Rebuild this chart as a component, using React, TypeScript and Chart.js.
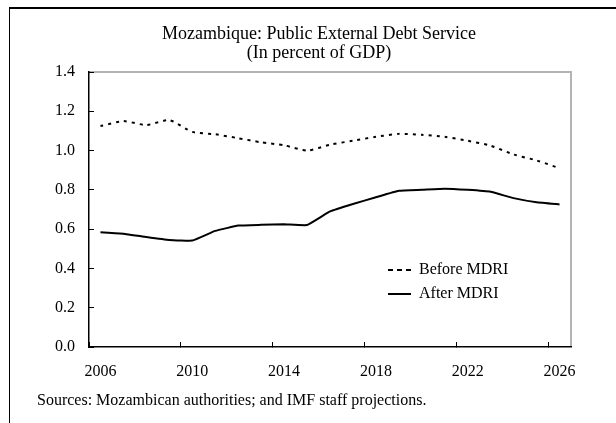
import React, { useEffect, useRef } from 'react';
import { Chart, registerables } from 'chart.js';

Chart.register(...registerables);

const years = [
  '2006', '2007', '2008', '2009', '2010', '2011', '2012', '2013', '2014', '2015', '2016',
  '2017', '2018', '2019', '2020', '2021', '2022', '2023', '2024', '2025', '2026',
];
const beforeMDRI = [
  1.125, 1.15, 1.13, 1.155, 1.095, 1.083, 1.063, 1.042, 1.027, 1.0, 1.03,
  1.05, 1.07, 1.085, 1.08, 1.07, 1.05, 1.025, 0.98, 0.95, 0.91,
];
const afterMDRI = [
  0.584, 0.577, 0.56, 0.545, 0.542, 0.591, 0.618, 0.622, 0.625, 0.621, 0.69,
  0.728, 0.762, 0.795, 0.8, 0.806, 0.8, 0.79, 0.758, 0.737, 0.726,
];
const seriesNames = ['Before MDRI', 'After MDRI'];
const titleLines = ['Mozambique: Public External Debt Service', '(In percent of GDP)'];
const sourceNote = 'Sources: Mozambican authorities; and IMF staff projections.';
const yMin = 0;
const yMax = 1.4;
const yStep = 0.2;
const labelEvery = 4;

const FONT = "'Liberation Serif', 'Times New Roman', serif";

const plotFrame = {
  id: 'plotFrame',
  beforeDraw(chart: any) {
    const { ctx, chartArea: a } = chart;
    ctx.save();
    ctx.strokeStyle = '#b4b4b4';
    ctx.lineWidth = 2;
    ctx.beginPath();
    ctx.moveTo(a.left, a.top);
    ctx.lineTo(a.right, a.top);
    ctx.lineTo(a.right, a.bottom);
    ctx.stroke();
    ctx.restore();
  },
};

const legendPlacer = {
  id: 'legendPlacer',
  afterLayout(chart: any) {
    const lg = chart.legend;
    if (!lg) return;
    const x = 380;
    const y = 254;
    lg.left = x;
    lg.top = y;
    lg.right = x + lg.width;
    lg.bottom = y + lg.height;
  },
};

export default function App() {
  const ref = useRef<HTMLCanvasElement | null>(null);

  useEffect(() => {
    if (!ref.current) return;
    const chart = new Chart(ref.current, {
      type: 'line',
      data: {
        labels: years,
        datasets: [
          {
            label: seriesNames[0],
            data: beforeMDRI,
            borderColor: '#000',
            backgroundColor: '#000',
            borderWidth: 2,
            borderDash: [3, 5],
            pointRadius: 0,
            tension: 0.2,
          },
          {
            label: seriesNames[1],
            data: afterMDRI,
            borderColor: '#000',
            backgroundColor: '#000',
            borderWidth: 2,
            pointRadius: 0,
            tension: 0.1,
          },
        ],
      },
      options: {
        responsive: false,
        animation: false,
        devicePixelRatio: 1,
        layout: { padding: { left: 37, right: 15, top: 0, bottom: 0 } },
        plugins: {
          tooltip: { enabled: false },
          title: {
            display: true,
            text: titleLines,
            color: '#000',
            font: { family: FONT, size: 18, weight: 'normal', lineHeight: 1.05 },
            padding: { top: 24.5, bottom: 9.7 },
          },
          subtitle: {
            display: true,
            text: sourceNote,
            position: 'bottom',
            align: 'start',
            color: '#000',
            font: { family: FONT, size: 16, weight: 'normal', lineHeight: 1.2 },
            padding: { top: 10.2, bottom: 12.4 },
          },
          legend: {
            display: true,
            position: 'chartArea',
            fullSize: false,
            align: 'start',
            labels: {
              usePointStyle: true,
              pointStyle: 'line',
              pointStyleWidth: 23,
              color: '#000',
              padding: 8,
              font: { family: FONT, size: 16, weight: 'normal' },
              generateLabels: (c: any) =>
                c.data.datasets.map((ds: any, i: number) => ({
                  text: ds.label,
                  fillStyle: 'rgba(0,0,0,0)',
                  strokeStyle: ds.borderColor,
                  lineWidth: ds.borderWidth,
                  lineDash: ds.borderDash ? [5, 4] : [],
                  lineCap: 'butt',
                  pointStyle: 'line',
                  fontColor: '#000',
                  hidden: false,
                  datasetIndex: i,
                })),
            },
          },
        },
        scales: {
          x: {
            type: 'category',
            offset: true,
            grid: {
              offset: true,
              drawOnChartArea: false,
              drawTicks: true,
              tickLength: -5,
              lineWidth: 1,
              color: (ctx: any) => (ctx.index % labelEvery === 0 ? '#000' : 'rgba(0,0,0,0)'),
            },
            border: { color: '#000', width: 1.5 },
            ticks: {
              autoSkip: false,
              maxRotation: 0,
              padding: 20,
              color: '#000',
              font: { family: FONT, size: 16 },
              callback: (_v: any, i: number) => (i % labelEvery === 0 ? years[i] : ''),
            },
            afterFit: (s: any) => {
              s.height = 34.2;
            },
          },
          y: {
            min: yMin,
            max: yMax,
            grid: {
              drawOnChartArea: false,
              drawTicks: true,
              tickLength: -5,
              color: '#000',
              lineWidth: 1,
            },
            border: { color: '#000', width: 1.5 },
            ticks: {
              stepSize: yStep,
              padding: 19,
              color: '#000',
              font: { family: FONT, size: 16 },
              callback: (v: any) => Number(v).toFixed(1),
            },
            afterFit: (s: any) => {
              s.width = 52;
            },
          },
          y2: {
            position: 'right',
            display: true,
            grid: { display: false, drawTicks: false },
            ticks: { display: false },
            border: { display: false },
            afterFit: (s: any) => {
              s.width = 30;
            },
          },
        },
      },
      plugins: [plotFrame, legendPlacer],
    } as any);
    return () => chart.destroy();
  }, []);

  return (
    <div
      style={{
        position: 'fixed',
        left: 0,
        top: 0,
        width: 616,
        height: 423,
        overflow: 'hidden',
        background: '#fff',
      }}
    >
      <div
        style={{
          position: 'absolute',
          left: 9,
          top: 7,
          width: 700,
          height: 500,
          borderLeft: '1.5px solid #000',
          borderTop: '2px solid #000',
        }}
      />
      <canvas
        ref={ref}
        width={616}
        height={423}
        style={{ position: 'absolute', left: 0, top: 0, width: 616, height: 423 }}
      />
    </div>
  );
}
